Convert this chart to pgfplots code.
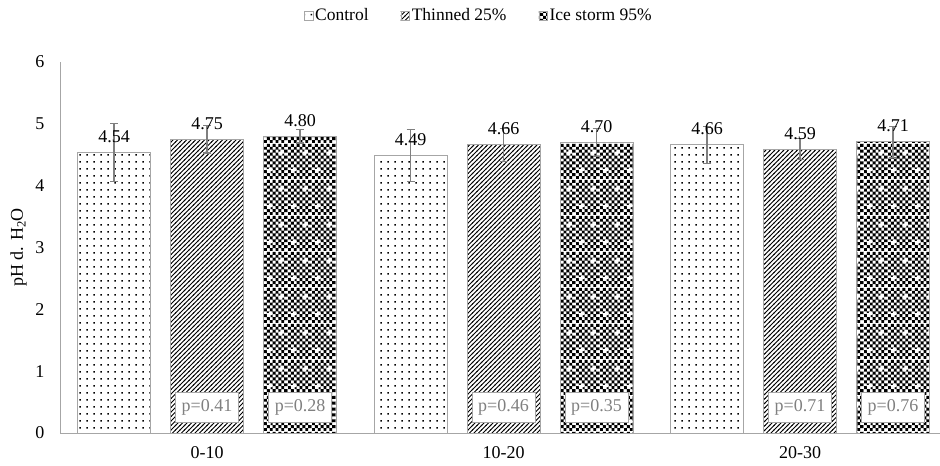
\documentclass[border=0pt]{standalone}
\usepackage{fontspec}
\setmainfont{Liberation Serif}
\usepackage{pgfplots}
\pgfplotsset{compat=1.18}
\usetikzlibrary{patterns}
\definecolor{axgray}{HTML}{A6A6A6}
\definecolor{errgray}{HTML}{7F7F7F}
\definecolor{ptext}{HTML}{808080}

\pgfdeclarepatternformonly{ctrldots}{\pgfqpoint{0bp}{0bp}}{\pgfqpoint{7bp}{7bp}}{\pgfqpoint{7bp}{7bp}}{%
  \pgfpathrectangle{\pgfqpoint{2.8bp}{2.8bp}}{\pgfqpoint{1.5bp}{1.5bp}}\pgfusepath{fill}}

\pgfdeclarepatternformonly{thinlines}{\pgfqpoint{-1bp}{-1bp}}{\pgfqpoint{5.5bp}{5.5bp}}{\pgfqpoint{4.5bp}{4.5bp}}{%
  \pgfsetlinewidth{0.9bp}%
  \pgfpathmoveto{\pgfqpoint{-0.5bp}{-0.5bp}}\pgfpathlineto{\pgfqpoint{5bp}{5bp}}\pgfusepath{stroke}}

\pgfdeclarepatterninherentlycolored{icecheck}{\pgfpointorigin}{\pgfqpoint{24bp}{36bp}}{\pgfqpoint{24bp}{36bp}}{%
  \pgfsetfillcolor{white}%
  \pgfpathrectangle{\pgfpointorigin}{\pgfqpoint{24bp}{36bp}}\pgfusepath{fill}%
  \pgfsetfillcolor{black}%
  \foreach \i in {0,...,7}{\foreach \j in {0,...,11}{%
    \pgfmathtruncatemacro\k{\i+\j}%
    \ifodd\k\relax\else
      \pgfpathrectangle{\pgfpoint{\i*3bp}{\j*3bp}}{\pgfqpoint{3bp}{3bp}}%
    \fi}}%
  \pgfusepath{fill}%
  \pgfsetfillcolor{white}%
  \pgfpathrectangle{\pgfqpoint{3bp}{8bp}}{\pgfqpoint{6bp}{2bp}}%
  \pgfpathrectangle{\pgfqpoint{5bp}{6bp}}{\pgfqpoint{2bp}{6bp}}%
  \pgfpathrectangle{\pgfqpoint{15bp}{26bp}}{\pgfqpoint{6bp}{2bp}}%
  \pgfpathrectangle{\pgfqpoint{17bp}{24bp}}{\pgfqpoint{2bp}{6bp}}%
  \pgfusepath{fill}}

\pgfplotsset{
  mylegend/.style={legend image code/.code={\draw[##1, draw=axgray, line width=0.6bp] (0bp,-4.5bp) rectangle (8.5bp,4bp);}},
  myerr/.style={error bars/.cd, y dir=both, y explicit,
    error bar style={errgray, line width=1.3bp},
    error mark options={rotate=90, errgray, mark size=4bp, line width=1.3bp}},
}

\begin{document}
\begin{tikzpicture}[font=\fontsize{18bp}{21bp}\selectfont,
  pbox/.style={draw=axgray, line width=1bp, fill=white, text=ptext, minimum width=63bp, minimum height=30bp, inner sep=1bp}]
\begin{axis}[
  scale only axis, width=880bp, height=371bp,
  xmin=-0.496, xmax=2.472, ymin=0, ymax=6,
  axis lines*=left,
  axis line style={axgray, line width=1bp},
  xtick={0,1,2}, xticklabels={0-10,10-20,20-30},
  ytick={0,1,2,3,4,5,6},
  major tick length=0pt,
  /pgf/number format/assume math mode=true,
  xticklabel style={yshift=-10bp},
  yticklabel style={xshift=-12bp},
  ylabel={pH d. H\textsubscript{2}O},
  ylabel style={at={(axis description cs:-0.047,0.5)}, anchor=center},
  legend style={at={(0.476,1.125)}, anchor=center, draw=none, fill=none,
    legend columns=3, font=\fontsize{17.5bp}{20bp}\selectfont,
    /tikz/every even column/.append style={column sep=30bp}},
  nodes near coords={\pgfmathprintnumber[fixed,zerofill,precision=2]{\pgfplotspointmeta}},
  every node near coord/.append style={text=black, yshift=6bp, font=\fontsize{18bp}{21bp}\selectfont},
  clip=false,
]
\addplot[ybar, bar width=0.246, bar shift=0, draw=axgray, line width=1bp, pattern=ctrldots, pattern color=black, mylegend, myerr]
  coordinates {(-0.3137,4.54) +- (0,0.47) (0.6863,4.49) +- (0,0.42) (1.6863,4.66) +- (0,0.30)};
\addlegendentry{Control}
\addplot[ybar, bar width=0.246, bar shift=0, draw=axgray, line width=1bp, pattern=thinlines, pattern color=black, mylegend, myerr]
  coordinates {(0,4.75) +- (0,0.22) (1,4.66) +- (0,0.27) (2,4.59) +- (0,0.17)};
\addlegendentry{Thinned 25\%}
\addplot[ybar, bar width=0.246, bar shift=0, draw=axgray, line width=1bp, pattern=icecheck, mylegend, myerr]
  coordinates {(0.3137,4.80) +- (0,0.11) (1.3137,4.70) +- (0,0.23) (2.3137,4.71) +- (0,0.25)};
\addlegendentry{Ice storm 95\%}

\node[pbox] at (axis cs:0,0.41) {p=0.41};
\node[pbox] at (axis cs:0.3137,0.41) {p=0.28};
\node[pbox] at (axis cs:1,0.41) {p=0.46};
\node[pbox] at (axis cs:1.3137,0.41) {p=0.35};
\node[pbox] at (axis cs:2,0.41) {p=0.71};
\node[pbox] at (axis cs:2.3137,0.41) {p=0.76};
\end{axis}
\pgfresetboundingbox
\path ([shift={(-60bp,-33bp)}]current axis.south west) rectangle ([shift={(0bp,62bp)}]current axis.north east);
\end{tikzpicture}
\end{document}
